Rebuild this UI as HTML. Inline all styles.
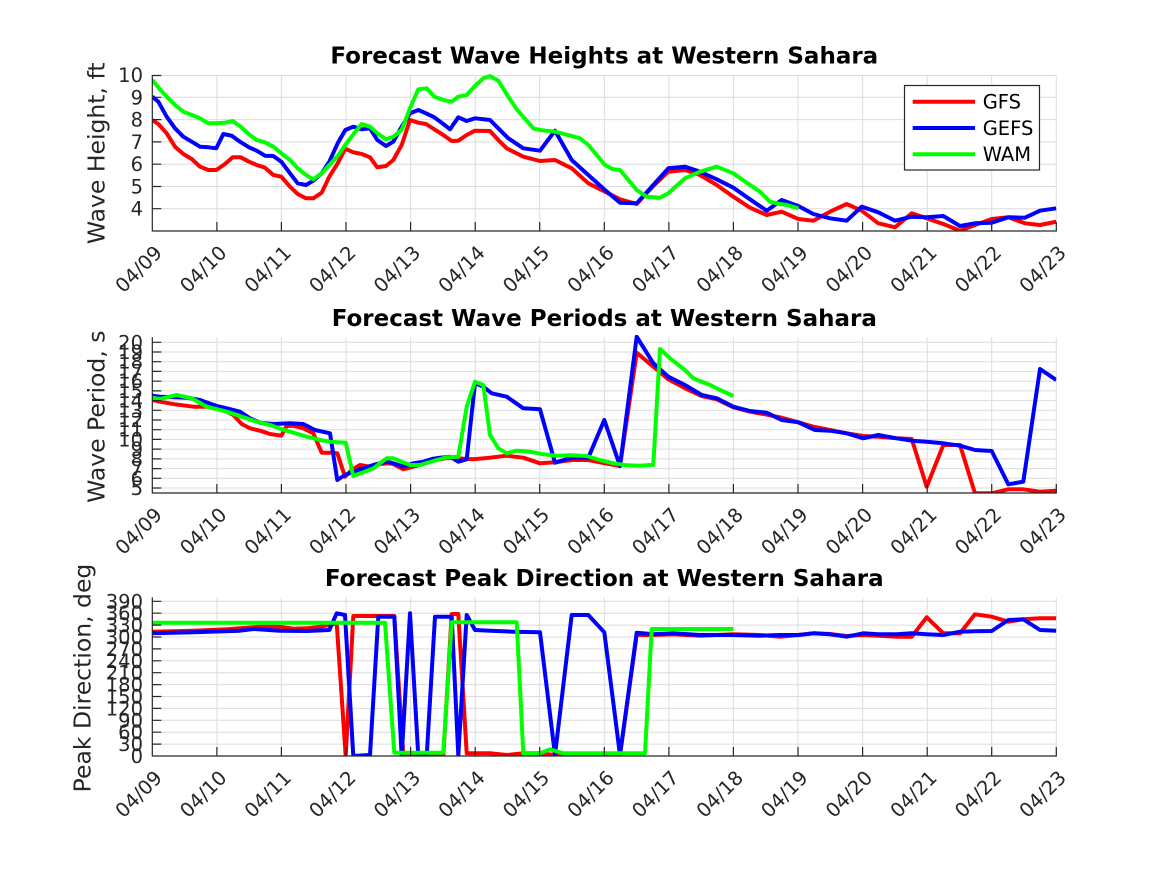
<!DOCTYPE html>
<html><head><meta charset="utf-8"><style>
html,body{margin:0;padding:0;background:#fff;}
svg{display:block;}
text{font-family:"DejaVu Sans","Liberation Sans",sans-serif;fill:#262626;}
.t{font-size:19.5px;}
.lab{font-size:23.5px;}
.ttl{font-size:23px;font-weight:bold;fill:#000;}
.g{stroke:#dcdcdc;stroke-width:1;}
.ax{stroke:#262626;stroke-width:1.2;fill:none;}
.s{fill:none;stroke-width:4;stroke-linejoin:round;stroke-linecap:butt;}
</style></head><body>
<svg width="1167" height="875" viewBox="0 0 1167 875" xmlns="http://www.w3.org/2000/svg">
<defs>
<clipPath id="c1"><rect x="152.3" y="73" width="904" height="158"/></clipPath>
<clipPath id="c2"><rect x="152.3" y="335" width="904" height="158.3"/></clipPath>
<clipPath id="c3"><rect x="152.3" y="595" width="904" height="161"/></clipPath>
</defs>
<rect width="1167" height="875" fill="#fff"/>

<!-- ===== PLOT 1 ===== -->
<g class="g">
<line x1="216.9" y1="75" x2="216.9" y2="231"/><line x1="281.4" y1="75" x2="281.4" y2="231"/><line x1="346" y1="75" x2="346" y2="231"/><line x1="410.6" y1="75" x2="410.6" y2="231"/><line x1="475.2" y1="75" x2="475.2" y2="231"/><line x1="539.7" y1="75" x2="539.7" y2="231"/><line x1="604.3" y1="75" x2="604.3" y2="231"/><line x1="668.9" y1="75" x2="668.9" y2="231"/><line x1="733.4" y1="75" x2="733.4" y2="231"/><line x1="798" y1="75" x2="798" y2="231"/><line x1="862.6" y1="75" x2="862.6" y2="231"/><line x1="927.2" y1="75" x2="927.2" y2="231"/><line x1="991.7" y1="75" x2="991.7" y2="231"/><line x1="1056.3" y1="75" x2="1056.3" y2="231"/>
<line x1="152.3" y1="75.5" x2="1056.3" y2="75.5"/><line x1="152.3" y1="97.3" x2="1056.3" y2="97.3"/><line x1="152.3" y1="119.6" x2="1056.3" y2="119.6"/><line x1="152.3" y1="141.9" x2="1056.3" y2="141.9"/><line x1="152.3" y1="164.2" x2="1056.3" y2="164.2"/><line x1="152.3" y1="186.5" x2="1056.3" y2="186.5"/><line x1="152.3" y1="208.7" x2="1056.3" y2="208.7"/>
</g>
<g clip-path="url(#c1)">
<polyline class="s" stroke="#ff0000" points="152.3,120 158.3,124 166.7,133.3 175,146.7 183.3,154 191.7,159 200,166.7 208.3,170 216.3,170 225,164 232.7,157.3 240.7,157.3 249,161.7 256.7,165 265,167.7 273.3,175 281.3,176.7 290,186.7 297.7,194 306,198.3 313.3,198.3 321.7,192.7 329.3,176.7 337.7,163.3 345.3,148.7 353.3,152.3 361.7,154 370,157.3 377.3,167.3 386,166 393.3,160 401.7,145 410,120 418.3,122.7 426,124 434.3,129.3 443.3,135 451.7,141 458.3,140.7 466.7,135 475,130.7 490,131 498.3,140 506.7,148.3 523.3,156.7 540,161 555,160 571.7,168.3 588.3,183.3 605,191.7 620,199.3 636.7,204 643.3,196.7 653.3,186 668.3,171.7 685,170 700,175 716.7,185 733.3,196.7 750,207.7 766.7,215 781.7,211.7 798.3,219 813.3,220.7 830,211.7 846.7,204 861.7,210.7 878.3,223.3 895,227.3 911.7,213.3 926.7,218.3 943.3,224 960,230.7 975,225 991.7,219 1008.3,217.3 1025,223.3 1040,225 1056.3,221.7"/>
<polyline class="s" stroke="#0000ff" points="152.3,96.7 158.3,101.7 166.7,116.7 175,128.3 183.3,136.7 191.7,141.7 200,146.7 208.3,147.3 216.3,148.3 223.3,134 231.7,135.7 240,141.7 249,147.3 256.7,150.7 265,155.7 273.3,156 281.3,161.7 290,173.3 297.7,183.3 306,185 313.3,180.7 321.7,173.3 329.3,161.7 337.7,143.3 345.3,130 353.3,126.7 361.7,129.3 370,128.3 377.3,140 386,146 393.3,141.7 401.7,126.7 410,113.3 418.3,110 426,113.3 434.3,117.3 443.3,124 450,129.3 458.3,117.3 466.7,121 475,118.3 490,120 498.3,128.3 508.3,138.3 523.3,148.3 540,150.7 555,130.7 571.7,160 588.3,175 605,190 620,202.7 636.7,203.3 653.3,185 668.3,168.3 685,166.7 700,171.7 716.7,179.3 733.3,187.7 750,199.3 766.7,210.7 781.7,200 798.3,206 813.3,214 830,218.3 846.7,220.7 861.7,206.7 878.3,212.3 895,220.7 911.7,216.7 926.7,217.3 943.3,216 960,226 975,223.3 991.7,222.7 1008.3,217.3 1025,217.7 1040,210.7 1056.3,208.3"/>
<polyline class="s" stroke="#00ff00" points="152.3,80 160,89.3 166.7,96.7 175,105 183.3,111.7 191.7,115 200,118.3 208.3,123.3 216.3,123.3 225,122.7 232.7,121 240.7,126.7 249,134.3 256.7,140 265,142.3 273.3,146.7 281.3,153.3 290,160 297.7,168.3 306,175 313.3,179.3 321.7,173.3 329.3,165 337.7,156 345.3,145 353.3,134.3 361.7,124 370,126.7 377.3,133.3 386,139.3 393.3,136.7 401.7,130 410,108.3 418.3,89.3 426.7,88.3 434.3,96.7 443.3,100 451.7,101.7 458.3,96.7 466.7,95 475,86 483.3,78.3 490,76 498.3,80.7 508.3,96.7 516.7,109.3 533.3,128.3 540,130 555,131.7 571.7,136 580,138.3 588.3,145 605,165 613.3,169.3 620,170 636.7,190 646.7,196.7 660,197.7 668.3,193.3 685,178.3 700,171.7 716.7,166.7 733.3,173.3 750,185 760,191.7 770,201.7 780,204 786.7,205 798.3,208.3"/>
</g>
<g class="ax">
<line x1="152.3" y1="75" x2="152.3" y2="231.5"/><line x1="152.3" y1="231" x2="1056.8" y2="231"/>
<path d="M216.9 231v-9M281.4 231v-9M346 231v-9M410.6 231v-9M475.2 231v-9M539.7 231v-9M604.3 231v-9M668.9 231v-9M733.4 231v-9M798 231v-9M862.6 231v-9M927.2 231v-9M991.7 231v-9M1056.3 231v-9"/>
<path d="M152.3 75.5h9M152.3 97.3h9M152.3 119.6h9M152.3 141.9h9M152.3 164.2h9M152.3 186.5h9M152.3 208.7h9"/>
</g>
<g class="t" text-anchor="end">
<text x="143" y="82">10</text><text x="143" y="104.3">9</text><text x="143" y="126.6">8</text><text x="143" y="148.9">7</text><text x="143" y="171.2">6</text><text x="143" y="193.5">5</text><text x="143" y="215.7">4</text>
</g>
<g class="t" text-anchor="end">
<text transform="translate(163.3,254) rotate(-45)">04/09</text><text transform="translate(227.9,254) rotate(-45)">04/10</text><text transform="translate(292.4,254) rotate(-45)">04/11</text><text transform="translate(357,254) rotate(-45)">04/12</text><text transform="translate(421.6,254) rotate(-45)">04/13</text><text transform="translate(486.2,254) rotate(-45)">04/14</text><text transform="translate(550.7,254) rotate(-45)">04/15</text><text transform="translate(615.3,254) rotate(-45)">04/16</text><text transform="translate(679.9,254) rotate(-45)">04/17</text><text transform="translate(744.4,254) rotate(-45)">04/18</text><text transform="translate(809,254) rotate(-45)">04/19</text><text transform="translate(873.6,254) rotate(-45)">04/20</text><text transform="translate(938.2,254) rotate(-45)">04/21</text><text transform="translate(1002.7,254) rotate(-45)">04/22</text><text transform="translate(1067.3,254) rotate(-45)">04/23</text>
</g>
<text class="lab" text-anchor="middle" transform="translate(104.5,153.3) rotate(-90)">Wave Height, ft</text>
<text class="ttl" text-anchor="middle" x="604.3" y="63.3">Forecast Wave Heights at Western Sahara</text>
<!-- legend -->
<rect x="904.5" y="85.5" width="135" height="84.5" fill="#fff" stroke="#262626" stroke-width="1.2"/>
<line x1="912.7" y1="101.7" x2="975" y2="101.7" stroke="#ff0000" stroke-width="4"/>
<line x1="912.7" y1="128" x2="975" y2="128" stroke="#0000ff" stroke-width="4"/>
<line x1="912.7" y1="154.3" x2="975" y2="154.3" stroke="#00ff00" stroke-width="4"/>
<text class="t" x="982.7" y="108.6" style="fill:#000">GFS</text>
<text class="t" x="982.7" y="134.9" style="fill:#000">GEFS</text>
<text class="t" x="982.7" y="161.2" style="fill:#000">WAM</text>

<!-- ===== PLOT 2 ===== -->
<g class="g">
<line x1="216.9" y1="337.3" x2="216.9" y2="493"/><line x1="281.4" y1="337.3" x2="281.4" y2="493"/><line x1="346" y1="337.3" x2="346" y2="493"/><line x1="410.6" y1="337.3" x2="410.6" y2="493"/><line x1="475.2" y1="337.3" x2="475.2" y2="493"/><line x1="539.7" y1="337.3" x2="539.7" y2="493"/><line x1="604.3" y1="337.3" x2="604.3" y2="493"/><line x1="668.9" y1="337.3" x2="668.9" y2="493"/><line x1="733.4" y1="337.3" x2="733.4" y2="493"/><line x1="798" y1="337.3" x2="798" y2="493"/><line x1="862.6" y1="337.3" x2="862.6" y2="493"/><line x1="927.2" y1="337.3" x2="927.2" y2="493"/><line x1="991.7" y1="337.3" x2="991.7" y2="493"/><line x1="1056.3" y1="337.3" x2="1056.3" y2="493"/>
<line x1="152.3" y1="342.3" x2="1056.3" y2="342.3"/><line x1="152.3" y1="352" x2="1056.3" y2="352"/><line x1="152.3" y1="361.7" x2="1056.3" y2="361.7"/><line x1="152.3" y1="371.4" x2="1056.3" y2="371.4"/><line x1="152.3" y1="381.2" x2="1056.3" y2="381.2"/><line x1="152.3" y1="390.9" x2="1056.3" y2="390.9"/><line x1="152.3" y1="400.6" x2="1056.3" y2="400.6"/><line x1="152.3" y1="410.3" x2="1056.3" y2="410.3"/><line x1="152.3" y1="420" x2="1056.3" y2="420"/><line x1="152.3" y1="429.7" x2="1056.3" y2="429.7"/><line x1="152.3" y1="439.4" x2="1056.3" y2="439.4"/><line x1="152.3" y1="449.1" x2="1056.3" y2="449.1"/><line x1="152.3" y1="458.9" x2="1056.3" y2="458.9"/><line x1="152.3" y1="468.6" x2="1056.3" y2="468.6"/><line x1="152.3" y1="478.3" x2="1056.3" y2="478.3"/><line x1="152.3" y1="488" x2="1056.3" y2="488"/>
</g>
<g clip-path="url(#c2)">
<polyline class="s" stroke="#ff0000" points="152.3,400 160,401.7 175,404.3 193.3,406.7 206.7,406.7 216.7,408.3 226.7,411.7 233.3,415 241.7,424 250,428.3 260,430.7 270,434 281.3,435.7 286.7,426 293.3,425.7 303.3,428.3 313.3,433.3 321.7,452.7 330,452.7 337.3,453.3 345,476.7 351.7,470 360,465 370,466.7 380,464 388.3,463.3 393.3,464 403.3,469.3 413.3,466.7 423.3,464 433.3,460.7 446.7,458 456.7,458.3 473.3,459.3 490,457.7 506.7,455.7 523.3,457.7 540,463.3 555,462.3 571.7,460 588.3,460 605,463.3 620,466 636.7,352.7 653.3,366.7 668.3,379.3 685,388.3 701.7,396 716.7,399.3 733.3,407.3 750,411.7 765,414.3 780,417.3 798.3,422.3 813.3,426.7 830,430 846.7,433.3 863.3,436 878.3,436.7 896.7,438.3 911.7,439 926.7,486.7 943.3,445 960,445 975,493.3 991.7,493.3 1008.3,489.3 1023.3,489.3 1040,491.7 1056.3,490.7"/>
<polyline class="s" stroke="#0000ff" points="152.3,395.7 160,396.7 175,397.3 186.7,397.7 200,400 216.7,406 226.7,408.3 240,411.7 250,418.3 260,422.7 273.3,424 290,423.3 303.3,424 315,430 330,433.3 337.3,480 345,475 353.3,471.7 363.3,468.3 373.3,465 386.7,461.7 393.3,463.3 403.3,466.7 413.3,463.3 423.3,461.7 433.3,458.7 440,457.7 450,456.7 458.3,461.7 466.7,459.3 475,383.3 483.3,386.7 491.7,393.3 506.7,396.7 523.3,408.3 540,409.3 555,462.7 571.7,457.7 588.3,457.7 604.3,420 620,466 636.7,336.7 653.3,363.3 668.3,376.7 685,385 701.7,395 716.7,398.3 733.3,406.7 750,411 766.7,412.7 781.7,420 798.3,422.3 815,430 830,430.7 846.7,433.3 863.3,438.3 878.3,435 896.7,438.3 911.7,440.7 926.7,441.7 943.3,443.3 960,445.7 975,450 991.7,451 1008.3,484.3 1023.3,481.7 1040,369 1056.3,380"/>
<polyline class="s" stroke="#00ff00" points="152.3,397.7 160,399 176.7,395 191.7,398.3 206.7,406.7 226.7,411.7 241.7,416.7 256.7,421.7 270,425 281.7,429.3 293.3,432.7 306.7,436.7 320,440 330,441.7 345.7,442.7 353.3,476 363.3,472.3 373.3,468.3 386.7,458.3 393.3,458.3 410,465 420,465 436.7,460 446.7,457.3 458.3,456.7 466.7,406.7 475,381.7 483.3,385 490,435 498.3,448.3 506.7,453.3 516.7,450.7 530,451.7 543.3,454.3 556.7,455.7 570,455.3 586.7,456 600,460 613.3,463.3 626.7,465.3 640,465.7 653.3,464.7 660,349 670,358.3 685,370 693.3,378.3 710,385 720,390 733.3,396"/>
</g>
<g class="ax">
<line x1="152.3" y1="337.3" x2="152.3" y2="493.5"/><line x1="152.3" y1="493" x2="1056.8" y2="493"/>
<path d="M216.9 493v-9M281.4 493v-9M346 493v-9M410.6 493v-9M475.2 493v-9M539.7 493v-9M604.3 493v-9M668.9 493v-9M733.4 493v-9M798 493v-9M862.6 493v-9M927.2 493v-9M991.7 493v-9M1056.3 493v-9"/>
<path d="M152.3 342.3h9M152.3 352h9M152.3 361.7h9M152.3 371.4h9M152.3 381.2h9M152.3 390.9h9M152.3 400.6h9M152.3 410.3h9M152.3 420h9M152.3 429.7h9M152.3 439.4h9M152.3 449.1h9M152.3 458.9h9M152.3 468.6h9M152.3 478.3h9M152.3 488h9"/>
</g>
<g class="t" text-anchor="end">
<text x="143" y="349.3">20</text><text x="143" y="359">19</text><text x="143" y="368.7">18</text><text x="143" y="378.4">17</text><text x="143" y="388.2">16</text><text x="143" y="397.9">15</text><text x="143" y="407.6">14</text><text x="143" y="417.3">13</text><text x="143" y="427">12</text><text x="143" y="436.7">11</text><text x="143" y="446.4">10</text><text x="143" y="456.1">9</text><text x="143" y="465.9">8</text><text x="143" y="475.6">7</text><text x="143" y="485.3">6</text><text x="143" y="495">5</text>
</g>
<g class="t" text-anchor="end">
<text transform="translate(163.3,516) rotate(-45)">04/09</text><text transform="translate(227.9,516) rotate(-45)">04/10</text><text transform="translate(292.4,516) rotate(-45)">04/11</text><text transform="translate(357,516) rotate(-45)">04/12</text><text transform="translate(421.6,516) rotate(-45)">04/13</text><text transform="translate(486.2,516) rotate(-45)">04/14</text><text transform="translate(550.7,516) rotate(-45)">04/15</text><text transform="translate(615.3,516) rotate(-45)">04/16</text><text transform="translate(679.9,516) rotate(-45)">04/17</text><text transform="translate(744.4,516) rotate(-45)">04/18</text><text transform="translate(809,516) rotate(-45)">04/19</text><text transform="translate(873.6,516) rotate(-45)">04/20</text><text transform="translate(938.2,516) rotate(-45)">04/21</text><text transform="translate(1002.7,516) rotate(-45)">04/22</text><text transform="translate(1067.3,516) rotate(-45)">04/23</text>
</g>
<text class="lab" text-anchor="middle" transform="translate(104.5,416.7) rotate(-90)">Wave Period, s</text>
<text class="ttl" text-anchor="middle" x="604.3" y="326">Forecast Wave Periods at Western Sahara</text>

<!-- ===== PLOT 3 ===== -->
<g class="g">
<line x1="216.9" y1="597.3" x2="216.9" y2="756"/><line x1="281.4" y1="597.3" x2="281.4" y2="756"/><line x1="346" y1="597.3" x2="346" y2="756"/><line x1="410.6" y1="597.3" x2="410.6" y2="756"/><line x1="475.2" y1="597.3" x2="475.2" y2="756"/><line x1="539.7" y1="597.3" x2="539.7" y2="756"/><line x1="604.3" y1="597.3" x2="604.3" y2="756"/><line x1="668.9" y1="597.3" x2="668.9" y2="756"/><line x1="733.4" y1="597.3" x2="733.4" y2="756"/><line x1="798" y1="597.3" x2="798" y2="756"/><line x1="862.6" y1="597.3" x2="862.6" y2="756"/><line x1="927.2" y1="597.3" x2="927.2" y2="756"/><line x1="991.7" y1="597.3" x2="991.7" y2="756"/><line x1="1056.3" y1="597.3" x2="1056.3" y2="756"/>
<line x1="152.3" y1="601.3" x2="1056.3" y2="601.3"/><line x1="152.3" y1="613.2" x2="1056.3" y2="613.2"/><line x1="152.3" y1="625.1" x2="1056.3" y2="625.1"/><line x1="152.3" y1="637" x2="1056.3" y2="637"/><line x1="152.3" y1="648.9" x2="1056.3" y2="648.9"/><line x1="152.3" y1="660.8" x2="1056.3" y2="660.8"/><line x1="152.3" y1="672.7" x2="1056.3" y2="672.7"/><line x1="152.3" y1="684.6" x2="1056.3" y2="684.6"/><line x1="152.3" y1="696.5" x2="1056.3" y2="696.5"/><line x1="152.3" y1="708.4" x2="1056.3" y2="708.4"/><line x1="152.3" y1="720.3" x2="1056.3" y2="720.3"/><line x1="152.3" y1="732.2" x2="1056.3" y2="732.2"/><line x1="152.3" y1="744.1" x2="1056.3" y2="744.1"/>
</g>
<g clip-path="url(#c3)">
<polyline class="s" stroke="#ff0000" points="152.3,631.7 193.3,630.7 226.7,629.3 260,626.7 280,626.7 293.3,628.7 306.7,628.3 320,626.7 329.3,625 336.7,623.3 345.7,756 353.3,616 370,616 394.3,616 403.3,755 420,756 443.3,756 451.7,614 458.3,614 466.7,753.3 490,753.3 506.7,755 523.3,753.3 540,753.3 555,755 573.3,755 620,755 636.7,635 653.3,635 673.3,634.3 700,635.7 733.3,634.3 760,635 780,636.7 798.3,635 813.3,633.3 830,634 846.7,636 863.3,635 878.3,635.7 896.7,636.7 911.7,636.7 926.7,617.3 943.3,633.3 960,633.3 975,614.3 991.7,616.7 1008.3,621.7 1023.3,619.3 1040,618.3 1056.3,618.3"/>
<polyline class="s" stroke="#0000ff" points="152.3,633.3 193.3,632.3 240,630.7 253.3,629 280,630.7 306.7,631 329.3,630 336.7,613.3 345,615 353.3,756 370,755 378.3,616.7 394.3,616.7 401.7,756 410,613.3 418.3,756 426.7,756 435,616.7 451.7,616.7 458.3,755 466.7,615 475,630 490,630.7 513.3,631.7 540,632.3 555,755 571.7,615 588.3,615 604.3,632.3 620,755 636.7,632.7 653.3,634.3 673.3,633.3 700,635 733.3,635 760,635.7 780,635 798.3,635 813.3,633.3 830,634.3 846.7,636.7 863.3,633.3 878.3,634.3 896.7,634.3 911.7,633.3 926.7,634.3 943.3,635 960,631.7 975,631.3 991.7,631 1008.3,620 1023.3,619.3 1040,630 1056.3,630.7"/>
<polyline class="s" stroke="#00ff00" points="152.3,622.7 385,622.7 394.3,752.7 443.3,752.7 451.7,622.3 516.7,622.3 523.3,753.3 540,753.3 550,749.3 563.3,753.3 645,753.3 651.7,629 733.3,629"/>
</g>
<g class="ax">
<line x1="152.3" y1="597.3" x2="152.3" y2="756.5"/><line x1="152.3" y1="756" x2="1056.8" y2="756"/>
<path d="M216.9 756v-9M281.4 756v-9M346 756v-9M410.6 756v-9M475.2 756v-9M539.7 756v-9M604.3 756v-9M668.9 756v-9M733.4 756v-9M798 756v-9M862.6 756v-9M927.2 756v-9M991.7 756v-9M1056.3 756v-9"/>
<path d="M152.3 601.3h9M152.3 613.2h9M152.3 625.1h9M152.3 637h9M152.3 648.9h9M152.3 660.8h9M152.3 672.7h9M152.3 684.6h9M152.3 696.5h9M152.3 708.4h9M152.3 720.3h9M152.3 732.2h9M152.3 744.1h9"/>
</g>
<g class="t" text-anchor="end">
<text x="143" y="608.3">390</text><text x="143" y="620.2">360</text><text x="143" y="632.1">330</text><text x="143" y="644">300</text><text x="143" y="655.9">270</text><text x="143" y="667.8">240</text><text x="143" y="679.7">210</text><text x="143" y="691.6">180</text><text x="143" y="703.5">150</text><text x="143" y="715.4">120</text><text x="143" y="727.3">90</text><text x="143" y="739.2">60</text><text x="143" y="751.1">30</text><text x="143" y="763">0</text>
</g>
<g class="t" text-anchor="end">
<text transform="translate(163.3,779) rotate(-45)">04/09</text><text transform="translate(227.9,779) rotate(-45)">04/10</text><text transform="translate(292.4,779) rotate(-45)">04/11</text><text transform="translate(357,779) rotate(-45)">04/12</text><text transform="translate(421.6,779) rotate(-45)">04/13</text><text transform="translate(486.2,779) rotate(-45)">04/14</text><text transform="translate(550.7,779) rotate(-45)">04/15</text><text transform="translate(615.3,779) rotate(-45)">04/16</text><text transform="translate(679.9,779) rotate(-45)">04/17</text><text transform="translate(744.4,779) rotate(-45)">04/18</text><text transform="translate(809,779) rotate(-45)">04/19</text><text transform="translate(873.6,779) rotate(-45)">04/20</text><text transform="translate(938.2,779) rotate(-45)">04/21</text><text transform="translate(1002.7,779) rotate(-45)">04/22</text><text transform="translate(1067.3,779) rotate(-45)">04/23</text>
</g>
<text class="lab" text-anchor="middle" transform="translate(90.5,678) rotate(-90)">Peak Direction, deg</text>
<text class="ttl" text-anchor="middle" x="604.3" y="586">Forecast Peak Direction at Western Sahara</text>
</svg>
</body></html>
